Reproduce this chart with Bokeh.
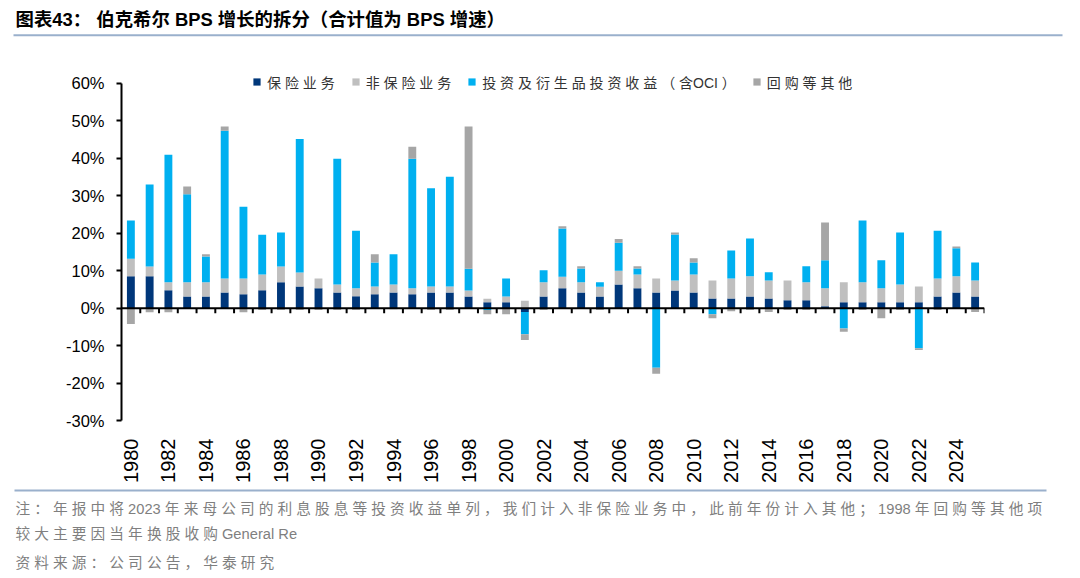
import numpy as np
from bokeh.plotting import figure
from bokeh.layouts import column
from bokeh.models import (ColumnDataSource, FixedTicker, PrintfTickFormatter, Span, Label,
                          Legend, LegendItem, BoxAnnotation, Range1d, BasicTickFormatter)
from bokeh.embed import file_html
from bokeh.resources import INLINE

# ---------------- data (percent) ----------------
years = list(range(1980, 2026))
insurance = [8.5, 8.5, 4.8, 3.1, 3.1, 4.2, 3.7, 4.8, 6.9, 5.8,
             5.3, 4.2, 3.2, 3.7, 4.2, 3.7, 4.2, 4.2, 3.1, 1.6,
             1.6, -1.0, 3.1, 5.3, 4.2, 3.1, 6.3, 5.3, 4.2, 4.7,
             4.2, 2.6, 2.6, 3.1, 2.6, 2.1, 2.1, 0.5, 1.6, 1.6,
             1.6, 1.6, 1.6, 3.1, 4.2, 3.1]
non_insurance = [4.7, 2.6, 2.1, 3.8, 3.8, 3.7, 4.2, 4.2, 4.2, 3.7,
                 2.6, 2.1, 2.1, 2.1, 2.1, 1.6, 1.6, 1.6, 1.6, 0.9,
                 1.5, 2.0, 3.8, 3.1, 2.7, 2.6, 3.7, 3.7, 3.7, 2.7,
                 4.8, 4.8, 5.3, 5.4, 4.8, 5.3, 4.8, 4.8, 5.3, 5.3,
                 3.7, 4.7, 4.2, 4.8, 4.3, 4.3]
investment = [10.2, 21.9, 34.1, 23.5, 6.9, 39.5, 19.2, 10.6, 9.1, 35.7,
              0.0, 33.6, 15.4, 6.4, 8.1, 34.6, 26.2, 29.3, 5.8, -0.5,
              4.8, -6.0, 3.2, 12.9, 3.7, 1.2, 7.5, 1.6, -15.9, 12.3,
              3.2, -1.6, 7.5, 10.1, 2.2, 0.0, 4.3, 7.5, -5.4, 16.5,
              7.5, 13.9, -10.7, 12.8, 7.5, 4.8]
other = [-4.2, -1.1, -1.1, 2.1, 0.6, 1.1, -1.1, -0.5, -0.5, -0.5,
         -0.5, -0.5, -0.5, 2.2, -0.3, 3.2, -0.5, -0.5, 38.0, -1.1,
         -1.6, -1.5, -0.5, 0.6, 0.6, -0.5, 1.0, 0.6, -1.6, 0.5,
         1.1, -1.1, -0.8, -0.5, -1.0, -0.5, -0.5, 10.1, -0.9, -0.5,
         -2.7, -0.5, -0.5, -0.5, 0.5, -1.0]

series_names = ["保险业务", "非保险业务", "投资及衍生品投资收益（含OCI）", "回购等其他"]
series_values = [insurance, non_insurance, investment, other]
series_colors = ["#00377A", "#BFBFBF", "#00B0F0", "#A6A6A6"]

y_ticks = [-30, -20, -10, 0, 10, 20, 30, 40, 50, 60]
x_ticks = years[::2]

title_text = "图表43： 伯克希尔 BPS 增长的拆分（合计值为 BPS 增速）"
note_lines = [
    "注：年报中将 2023 年来母公司的利息股息等投资收益单列，我们计入非保险业务中，此前年份计入其他；1998 年回购等其他项",
    "较大主要因当年换股收购 General Re",
    "资料来源：公司公告，华泰研究",
]


def spaced(s):
    """Insert a space between CJK characters (keeps ASCII runs together)."""
    tokens, buf = [], ""
    for ch in s:
        if ord(ch) < 128:
            buf += ch
        else:
            if buf.strip():
                tokens.append(buf.strip())
            buf = ""
            tokens.append(ch)
    if buf.strip():
        tokens.append(buf.strip())
    return " ".join(tokens)


CJK = "Liberation Sans, Noto Sans CJK SC"
RULE = "#9AB0CC"
W = 1080


def no_align(f):
    if "frame_align" in f.properties():
        f.frame_align = False


def blank_fig(h):
    f = figure(width=W, height=h, x_axis_type=None, y_axis_type=None,
               x_range=Range1d(0, 1), y_range=Range1d(0, 1),
               toolbar_location=None, output_backend="svg", title=None,
               min_border=0, min_border_left=0, min_border_right=0,
               min_border_top=0, min_border_bottom=0)
    f.outline_line_color = None
    f.background_fill_color = "white"
    f.border_fill_color = "white"
    no_align(f)
    return f


# ---------------- title strip (45 px) ----------------
ft = blank_fig(45)
ft.add_layout(Label(x=15, y=26, x_units="screen", y_units="screen", text=title_text,
                    text_font=CJK, text_font_size="18.4px", text_font_style="bold",
                    text_color="black", text_baseline="middle", text_align="left"))
ft.add_layout(BoxAnnotation(left=13, right=1062, bottom=9.3, top=11.3,
                            left_units="screen", right_units="screen",
                            top_units="screen", bottom_units="screen",
                            fill_color=RULE, fill_alpha=1, line_color=None))

# ---------------- main chart (440 px) ----------------
p = figure(width=W, height=440, x_range=Range1d(1979.5, 2025.5), y_range=Range1d(-30, 62.4),
           toolbar_location=None, output_backend="svg", title=None,
           min_border_left=121, min_border_right=96, min_border_top=29, min_border_bottom=65)
no_align(p)
p.outline_line_color = None
p.xgrid.grid_line_color = None
p.ygrid.grid_line_color = None
p.background_fill_color = "white"
p.border_fill_color = "white"

pos_base = np.zeros(len(years))
neg_base = np.zeros(len(years))
renderers = []
for vals, color in zip(series_values, series_colors):
    v = np.array(vals, dtype=float)
    bottom = np.where(v >= 0, pos_base, neg_base + v)
    top = np.where(v >= 0, pos_base + v, neg_base)
    pos_base = np.where(v >= 0, pos_base + v, pos_base)
    neg_base = np.where(v < 0, neg_base + v, neg_base)
    src = ColumnDataSource(dict(x=years, top=top, bottom=bottom))
    r = p.vbar(x="x", top="top", bottom="bottom", width=0.42, source=src,
               fill_color=color, line_color=None)
    renderers.append(r)

# zero line with category ticks
p.add_layout(Span(location=0, dimension="width", line_color="black", line_width=2))
bounds = [y + 0.5 for y in years]
p.segment(x0=bounds, y0=[0] * len(bounds), x1=bounds, y1=[-1.35] * len(bounds),
          line_color="black", line_width=2)

ya = p.yaxis[0]
ya.ticker = FixedTicker(ticks=y_ticks)
ya.bounds = (y_ticks[0], y_ticks[-1])
ya.formatter = PrintfTickFormatter(format="%d%%")
ya.axis_line_width = 2
ya.axis_line_color = "black"
ya.major_tick_out = 5
ya.major_tick_in = 0
ya.major_tick_line_width = 2
ya.minor_tick_line_color = None
ya.major_label_text_font = "Liberation Sans"
ya.major_label_text_font_size = "16.5px"
ya.major_label_text_color = "black"
ya.major_label_standoff = 12

xa = p.xaxis[0]
xa.ticker = FixedTicker(ticks=x_ticks)
xa.formatter = BasicTickFormatter(use_scientific=False)
xa.axis_line_color = None
xa.major_tick_line_color = None
xa.minor_tick_line_color = None
xa.major_label_orientation = np.pi / 2
xa.major_label_text_font = "Liberation Sans"
xa.major_label_text_font_size = "20px"
xa.major_label_text_color = "black"
xa.major_label_standoff = 12

legend_labels = [spaced(n).replace("含 OCI", "含OCI") for n in series_names]
items = [LegendItem(label=lab, renderers=[r]) for lab, r in zip(legend_labels, renderers)]
legend = Legend(items=items, orientation="horizontal", location=(131, 328.5),
                glyph_width=9, glyph_height=9, label_standoff=6, spacing=16,
                padding=0, margin=0, border_line_color=None, background_fill_alpha=0,
                label_text_font=CJK, label_text_font_size="14px",
                label_text_color="#333333", label_height=16)
p.add_layout(legend, "center")

# ---------------- notes strip (93 px) ----------------
fn = blank_fig(93)
fn.add_layout(BoxAnnotation(left=14, right=1046, bottom=87, top=89,
                            left_units="screen", right_units="screen",
                            top_units="screen", bottom_units="screen",
                            fill_color=RULE, fill_alpha=1, line_color=None))
for txt, yy in zip(note_lines, [70, 45, 16]):
    fn.add_layout(Label(x=15, y=yy, x_units="screen", y_units="screen", text=spaced(txt),
                        text_font=CJK, text_font_size="14.7px", text_color="#7F7F7F",
                        text_baseline="middle", text_align="left"))

layout = column(ft, p, fn, spacing=0)
open("out.html", "w").write(file_html(layout, INLINE))
